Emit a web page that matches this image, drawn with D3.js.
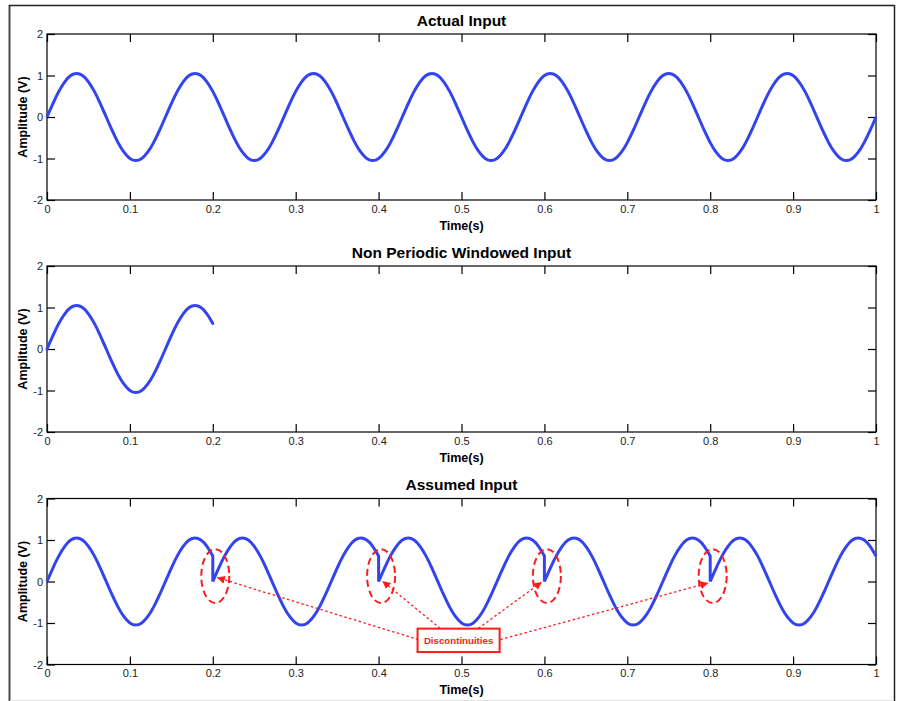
<!DOCTYPE html>
<html>
<head>
<meta charset="utf-8">
<script src="https://cdn.jsdelivr.net/npm/d3@7"></script>
<style>
  html, body { margin: 0; padding: 0; background: #ffffff; }
  svg { display: block; }
  text { font-family: "Liberation Sans", Arial, Helvetica, sans-serif; }
</style>
</head>
<body>
<svg id="fig" width="901" height="701"></svg>
<script>
// ---- Data ---------------------------------------------------------------
// Signal sampled at 140 samples per second (7 Hz sine, 20 samples per cycle)
const sampleRate = 140;

// Actual input, 0 .. 1 s (141 samples)
const actualAmp = [
  0, 0.324, 0.617, 0.849, 0.999, 1.05, 0.999, 0.849, 0.617, 0.324,
  0, -0.324, -0.617, -0.849, -0.999, -1.05, -0.999, -0.849, -0.617, -0.324,
  0, 0.324, 0.617, 0.849, 0.999, 1.05, 0.999, 0.849, 0.617, 0.324,
  0, -0.324, -0.617, -0.849, -0.999, -1.05, -0.999, -0.849, -0.617, -0.324,
  0, 0.324, 0.617, 0.849, 0.999, 1.05, 0.999, 0.849, 0.617, 0.324,
  0, -0.324, -0.617, -0.849, -0.999, -1.05, -0.999, -0.849, -0.617, -0.324,
  0, 0.324, 0.617, 0.849, 0.999, 1.05, 0.999, 0.849, 0.617, 0.324,
  0, -0.324, -0.617, -0.849, -0.999, -1.05, -0.999, -0.849, -0.617, -0.324,
  0, 0.324, 0.617, 0.849, 0.999, 1.05, 0.999, 0.849, 0.617, 0.324,
  0, -0.324, -0.617, -0.849, -0.999, -1.05, -0.999, -0.849, -0.617, -0.324,
  0, 0.324, 0.617, 0.849, 0.999, 1.05, 0.999, 0.849, 0.617, 0.324,
  0, -0.324, -0.617, -0.849, -0.999, -1.05, -0.999, -0.849, -0.617, -0.324,
  0, 0.324, 0.617, 0.849, 0.999, 1.05, 0.999, 0.849, 0.617, 0.324,
  0, -0.324, -0.617, -0.849, -0.999, -1.05, -0.999, -0.849, -0.617, -0.324,
  0
];

// Non-periodic window, 0 .. 0.2 s (29 samples)
const windowAmp = [
  0, 0.324, 0.617, 0.849, 0.999, 1.05, 0.999, 0.849, 0.617, 0.324,
  0, -0.324, -0.617, -0.849, -0.999, -1.05, -0.999, -0.849, -0.617, -0.324,
  0, 0.324, 0.617, 0.849, 0.999, 1.05, 0.999, 0.849, 0.617
];

// Start times of the repeated window in the assumed input
const tileStarts = [0, 0.2, 0.4, 0.6, 0.8];

// Axis ticks and labels
const xTicks = [0, 0.1, 0.2, 0.3, 0.4, 0.5, 0.6, 0.7, 0.8, 0.9, 1];
const xTickLabels = ["0", "0.1", "0.2", "0.3", "0.4", "0.5", "0.6", "0.7", "0.8", "0.9", "1"];
const yTicks = [-2, -1, 0, 1, 2];
const yTickLabels = ["-2", "-1", "0", "1", "2"];

const titles = ["Actual Input", "Non Periodic Windowed Input", "Assumed Input"];
const xLabel = "Time(s)";
const yLabel = "Amplitude (V)";

// Discontinuity annotation (data coordinates of the lower panel)
const discontinuityTimes = [0.2, 0.4, 0.6, 0.8];
const noteText = "Discontinuities";

// ---- Layout -------------------------------------------------------------
const W = 901, H = 701;
const plotLeft = 47, plotRight = 876, plotH = 166;
const plotTops = [34, 266, 498.5];
const lineColor = "#3344ee";
const red = "#ff1a1a";

const svg = d3.select("#fig");

// figure frame
const frame = svg.append("g");
frame.append("line").attr("x1", 9.5).attr("x2", 9.5).attr("y1", 5).attr("y2", 701)
  .attr("stroke", "#4a4a4a").attr("stroke-width", 2);
frame.append("line").attr("x1", 9).attr("x2", 895).attr("y1", 5.5).attr("y2", 5.5)
  .attr("stroke", "#222").attr("stroke-width", 1.5);
frame.append("line").attr("x1", 894.5).attr("x2", 894.5).attr("y1", 5).attr("y2", 701)
  .attr("stroke", "#222").attr("stroke-width", 1.5);
frame.append("line").attr("x1", 10).attr("x2", 894).attr("y1", 700.5).attr("y2", 700.5)
  .attr("stroke", "#e2e2e2").attr("stroke-width", 1);

const x = d3.scaleLinear().domain([0, 1]).range([plotLeft, plotRight]);

function makePanel(i) {
  const top = plotTops[i];
  const y = d3.scaleLinear().domain([-2, 2]).range([top + plotH, top]);
  const g = svg.append("g");

  // ticks (pointing inwards on all four sides)
  const tickFmtX = (d) => xTickLabels[xTicks.indexOf(d)];
  const tickFmtY = (d) => yTickLabels[yTicks.indexOf(d)];

  const ax = g.append("g").attr("transform", `translate(0,${top + plotH})`)
    .call(d3.axisBottom(x).tickValues(xTicks).tickFormat(tickFmtX)
      .tickSizeInner(-8).tickSizeOuter(0).tickPadding(5));
  const at = g.append("g").attr("transform", `translate(0,${top})`)
    .call(d3.axisTop(x).tickValues(xTicks).tickFormat("")
      .tickSizeInner(-8).tickSizeOuter(0));
  const al = g.append("g").attr("transform", `translate(${plotLeft},0)`)
    .call(d3.axisLeft(y).tickValues(yTicks).tickFormat(tickFmtY)
      .tickSizeInner(-8).tickSizeOuter(0).tickPadding(4));
  const ar = g.append("g").attr("transform", `translate(${plotRight},0)`)
    .call(d3.axisRight(y).tickValues(yTicks).tickFormat("")
      .tickSizeInner(-8).tickSizeOuter(0));

  [ax, at, al, ar].forEach((a) => {
    a.select(".domain").remove();
    a.selectAll(".tick line").attr("stroke", "#000").attr("stroke-width", 1.2);
    a.selectAll("text").attr("fill", "#222").style("font-size", "11px")
      .style("font-family", '"Liberation Sans", Arial, sans-serif');
  });

  // plot box
  g.append("rect").attr("x", plotLeft).attr("y", top)
    .attr("width", plotRight - plotLeft).attr("height", plotH)
    .attr("fill", "none").attr("stroke", "#000").attr("stroke-width", 1.2);

  // title
  g.append("text").attr("x", (plotLeft + plotRight) / 2).attr("y", top - 8.5)
    .attr("text-anchor", "middle").style("font-size", "15.5px")
    .style("font-weight", "bold").attr("fill", "#000").text(titles[i]);

  // x label
  g.append("text").attr("x", (plotLeft + plotRight) / 2).attr("y", top + plotH + 29.5)
    .attr("text-anchor", "middle").style("font-size", "12.5px")
    .style("font-weight", "bold").attr("fill", "#000").text(xLabel);

  // y label
  g.append("text")
    .attr("transform", `translate(27,${top + plotH / 2}) rotate(-90)`)
    .attr("text-anchor", "middle").style("font-size", "12.5px")
    .style("font-weight", "bold").attr("fill", "#000").text(yLabel);

  return { g, y };
}

const curveLine = (y) => d3.line()
  .x((d) => x(d[0])).y((d) => y(d[1]))
  .curve(d3.curveNatural);

// Panel 1: actual input
{
  const { g, y } = makePanel(0);
  const pts = actualAmp.map((v, k) => [k / sampleRate, v]);
  g.append("path").attr("d", curveLine(y)(pts))
    .attr("fill", "none").attr("stroke", lineColor).attr("stroke-width", 3)
    .attr("stroke-linejoin", "round");
}

// Panel 2: windowed input
{
  const { g, y } = makePanel(1);
  const pts = windowAmp.map((v, k) => [k / sampleRate, v]);
  g.append("path").attr("d", curveLine(y)(pts))
    .attr("fill", "none").attr("stroke", lineColor).attr("stroke-width", 3)
    .attr("stroke-linecap", "round");
}

// Panel 3: assumed (periodically repeated) input
{
  const { g, y } = makePanel(2);
  const line = curveLine(y);
  let d = "";
  tileStarts.forEach((t0, i) => {
    const pts = windowAmp.map((v, k) => [t0 + k / sampleRate, v]);
    const seg = line(pts);
    d += i === 0 ? seg : "L" + seg.slice(1);
  });
  g.append("path").attr("d", d)
    .attr("fill", "none").attr("stroke", lineColor).attr("stroke-width", 3)
    .attr("stroke-linejoin", "miter");

  // annotation
  const defs = svg.append("defs");
  defs.append("marker").attr("id", "arrowHead")
    .attr("viewBox", "0 0 10 10").attr("refX", 10).attr("refY", 5)
    .attr("markerWidth", 8).attr("markerHeight", 8)
    .attr("markerUnits", "userSpaceOnUse").attr("orient", "auto")
    .append("path").attr("d", "M0,0 L10,5 L0,10 Z").attr("fill", red);

  const ann = g.append("g");
  const ellipseDt = 0.003, ellipseV = 0.13;
  discontinuityTimes.forEach((t) => {
    ann.append("ellipse")
      .attr("cx", x(t + ellipseDt)).attr("cy", y(ellipseV))
      .attr("rx", x(0.0169) - x(0)).attr("ry", y(0) - y(0.65))
      .attr("fill", "none").attr("stroke", red).attr("stroke-width", 2)
      .attr("stroke-dasharray", "7,4");
  });

  // arrow start points on the label box and their tips
  const arrowFrom = [[0.448, -1.40], [0.4744, -1.13], [0.5203, -1.13], [0.5468, -1.40]];
  const arrowTo = [[0.205, 0.095], [0.4045, 0.013], [0.597, -0.01], [0.7977, -0.035]];
  arrowFrom.forEach((p, i) => {
    ann.append("line")
      .attr("x1", x(p[0])).attr("y1", y(p[1]))
      .attr("x2", x(arrowTo[i][0])).attr("y2", y(arrowTo[i][1]))
      .attr("stroke", red).attr("stroke-width", 1.3)
      .attr("stroke-dasharray", "2.5,2.5")
      .attr("marker-end", "url(#arrowHead)");
  });

  // label box
  const bx0 = x(0.447), bx1 = x(0.546), by0 = y(-1.136), by1 = y(-1.70);
  ann.append("rect").attr("x", bx0).attr("y", by0)
    .attr("width", bx1 - bx0).attr("height", by1 - by0)
    .attr("fill", "#fff").attr("stroke", red).attr("stroke-width", 2);
  ann.append("text").attr("x", (bx0 + bx1) / 2).attr("y", (by0 + by1) / 2 + 3.5)
    .attr("text-anchor", "middle").style("font-size", "9.7px")
    .style("font-weight", "bold").attr("fill", red).text(noteText);
}
</script>
</body>
</html>
